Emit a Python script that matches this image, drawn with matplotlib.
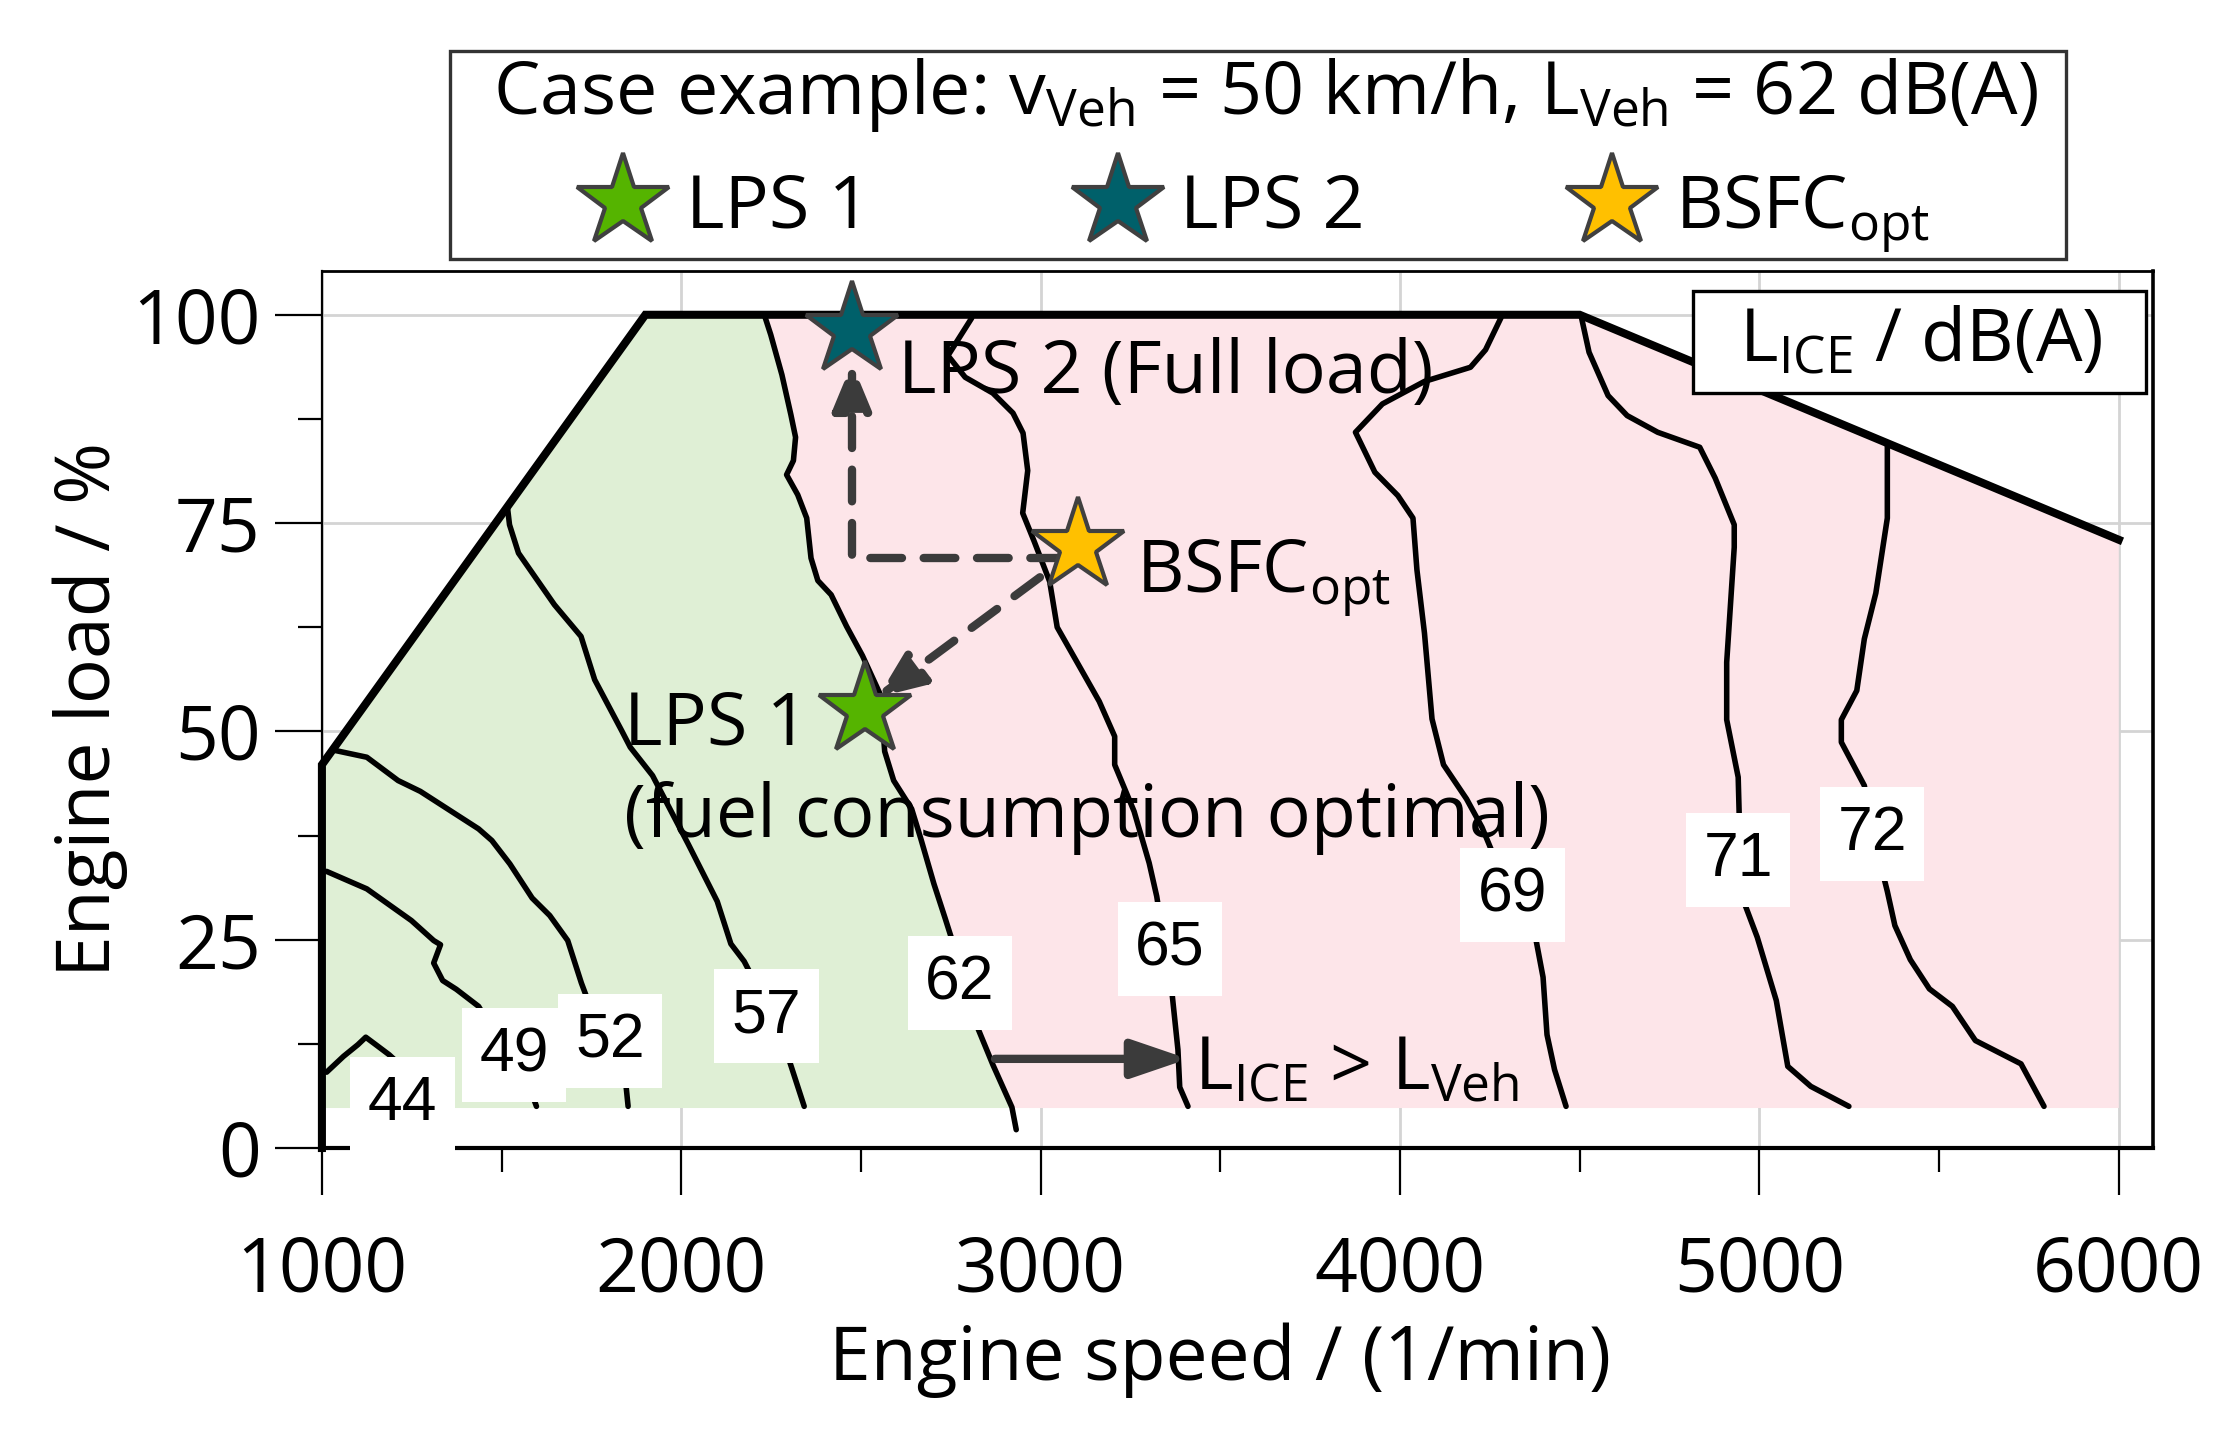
import numpy as np
import matplotlib
matplotlib.use("Agg")
import matplotlib.pyplot as plt
from matplotlib.lines import Line2D
from matplotlib.patches import Polygon, Rectangle

plt.rcParams['font.family'] = ['Open Sans', 'DejaVu Sans']
plt.rcParams['mathtext.fontset'] = 'custom'
plt.rcParams['mathtext.rm'] = 'Open Sans'

# full load curve (engine speed 1/min, load %)
full_speed = [1000, 1000, 1900, 4500, 6000]
full_load = [0, 46, 100, 100, 73]
fill_bottom = 4.8

# noise contour lines L_ICE / dB(A)
levels = [44, 49, 52, 57, 62, 65, 69, 71, 72]
contour_speed = [
    [1013, 1060, 1100, 1122, 1150, 1187, 1230, 1265, 1290],
    [1013, 1125, 1249, 1311, 1330, 1311, 1336, 1374, 1436, 1520, 1580, 1597],
    [1038, 1125, 1212, 1274, 1436, 1473, 1523, 1585, 1634, 1684, 1722, 1790, 1845, 1852],
    [1516, 1522, 1547, 1597, 1647, 1721, 1759, 1834, 1858, 1920, 2019, 2100, 2138, 2175, 2240, 2293, 2342],
    [2231, 2249, 2280, 2305, 2318, 2312, 2293, 2324, 2349, 2361, 2380, 2417, 2460, 2504, 2554, 2566,
     2591, 2641, 2666, 2703, 2734, 2790, 2825, 2867, 2920, 2932],
    [2808, 2742, 2790, 2867, 2923, 2951, 2964, 2950, 2982, 3025, 3046, 3100, 3163, 3206, 3206, 3260,
     3302, 3323, 3366, 3382, 3387, 3410],
    [4281, 4238, 4196, 4068, 3951, 3876, 3930, 3994, 4036, 4047, 4068, 4089, 4121, 4185, 4228, 4300,
     4377, 4398, 4409, 4430, 4462],
    [4505, 4526, 4579, 4632, 4717, 4834, 4877, 4930, 4930, 4909, 4909, 4941, 4945, 4952, 4994, 5047,
     5079, 5143, 5249],
    [5356, 5356, 5324, 5292, 5271, 5228, 5228, 5292, 5320, 5356, 5377, 5420, 5473, 5537, 5601, 5728, 5792],
]
contour_load = [
    [9.1, 11.0, 12.4, 13.3, 12.4, 11.2, 9.5, 7.0, 5.0],
    [33.2, 31.1, 27.3, 24.9, 24.4, 22.2, 20.1, 19.05, 17.0, 11.0, 7.0, 5.0],
    [47.7, 46.9, 44.1, 42.8, 38.3, 36.9, 34.1, 30.0, 27.9, 24.9, 19.8, 12.0, 8.0, 5.0],
    [77.0, 74.8, 71.4, 68.3, 65.2, 61.4, 56.2, 50.1, 48.1, 44.7, 36.5, 29.6, 24.5, 22.4, 17.0, 11.5, 5.0],
    [100.0, 97.6, 92.8, 88.0, 85.3, 82.5, 80.8, 78.4, 75.6, 70.8, 68.1, 66.4, 62.6, 59.1, 54.4, 47.6,
     44.1, 40.7, 37.2, 31.7, 27.6, 20.0, 14.4, 10.0, 4.9, 2.2],
    [99.6, 95.1, 92.5, 90.6, 88.2, 85.8, 81.3, 76.2, 72.8, 68.0, 62.5, 58.4, 53.6, 49.4, 46.0, 40.4,
     34.2, 30.2, 18.4, 11.8, 7.3, 5.0],
    [99.65, 95.8, 93.7, 92.0, 89.3, 85.9, 81.1, 78.3, 75.6, 69.4, 61.8, 51.5, 46.0, 41.9, 38.5, 31.0,
     25.3, 20.5, 13.6, 9.4, 5.0],
    [99.65, 95.5, 90.3, 87.9, 85.9, 84.1, 80.4, 74.8, 72.1, 58.3, 51.4, 44.5, 38.0, 30.1, 25.3, 17.7,
     9.8, 7.4, 5.0],
    [84.6, 75.6, 66.6, 61.1, 54.9, 51.4, 48.7, 43.5, 37.0, 30.8, 26.7, 22.6, 19.1, 17.0, 12.9, 10.1, 5.0],
]
label_speed = [1224, 1535, 1802, 2237, 2775, 3360, 4313, 4941, 5314]
label_load = [5.3, 11.2, 12.9, 15.8, 19.8, 23.9, 30.4, 34.6, 37.7]
vehicle_level = 62

# operating points
points = ['LPS 1', 'LPS 2', r'BSFC$_\mathregular{opt}$']
point_speed = [2511, 2474, 3104]
point_load = [52.6, 98.2, 72.2]
point_colors = ['#55b400', '#00606a', '#ffc000']

green = '#dfefd5'
pink = '#fde5e9'
arrow_col = '#3b3b3b'

fig = plt.figure(figsize=(11.17, 7.185), dpi=200)
ax = fig.add_axes([0.1441, 0.2011, 0.8196, 0.61])

# regions below / above vehicle noise level
i62 = levels.index(vehicle_level)
x62 = np.array(contour_speed[i62], dtype=float)
y62 = np.array(contour_load[i62], dtype=float)
keep = y62 >= fill_bottom
fy = np.concatenate([[101], y62[keep], [fill_bottom]])
fx = np.concatenate([[x62[0] - 5], x62[keep], [x62[keep][-1]]])
clip = Polygon(list(zip([1000] + full_speed[1:] + [6000], [fill_bottom] + full_load[1:] + [fill_bottom])),
               closed=True, transform=ax.transData, facecolor='none', edgecolor='none')
ax.add_patch(clip)
g = ax.fill_betweenx(fy, 1000, fx, color=green, lw=0, zorder=1)
p = ax.fill_betweenx(fy, fx, 6000, color=pink, lw=0, zorder=1)
g.set_clip_path(clip)
p.set_clip_path(clip)

for sp, ld in zip(contour_speed, contour_load):
    ax.plot(sp, ld, color='black', lw=2.0, zorder=3, solid_capstyle='round')

for lev, lx, ly in zip(levels, label_speed, label_load):
    ax.text(lx, ly, str(lev), family='Liberation Sans', fontsize=22.5, ha='center', va='center',
            zorder=4, bbox=dict(boxstyle='square,pad=0.28', fc='white', ec='none'))

ax.plot(full_speed, full_load, color='black', lw=2.9, zorder=5, solid_joinstyle='miter', clip_on=False)

# arrows
dash = (0, (3.8, 2.6))
ax.annotate('', xy=(2475, 94.2), xytext=(3060, 70.8), zorder=6,
            arrowprops=dict(arrowstyle='-|>,head_length=14,head_width=5.8', mutation_scale=1,
                            connectionstyle='angle,angleA=0,angleB=90,rad=0', lw=3, ls=dash,
                            color=arrow_col, shrinkA=0, shrinkB=0))
ax.annotate('', xy=(2547, 54.1), xytext=(2998, 68.5), zorder=6,
            arrowprops=dict(arrowstyle='-|>,head_length=14,head_width=5.8', mutation_scale=1,
                            lw=3, ls=dash, color=arrow_col, shrinkA=0, shrinkB=0))
ax.annotate('', xy=(3410, 10.7), xytext=(2873, 10.7), zorder=6,
            arrowprops=dict(arrowstyle='-|>,head_length=17,head_width=5.8', mutation_scale=1,
                            lw=3, color=arrow_col, shrinkA=0, shrinkB=0))

for sx, sy, c in zip(point_speed, point_load, point_colors):
    ax.plot(sx, sy, marker='*', ms=35, mfc=c, mec='#404040', mew=1.5, ls='none', zorder=7)

fs = 26.5
ax.text(2602, 90.6, 'LPS 2 (Full load)', fontsize=fs, va='baseline', zorder=8)
ax.text(3264, 66.8, r'BSFC$_\mathregular{opt}$', fontsize=fs, va='baseline', zorder=8)
ax.text(1841, 48.4, 'LPS 1', fontsize=fs, va='baseline', zorder=8)
ax.text(1841, 37.3, '(fuel consumption optimal)', fontsize=fs, va='baseline', zorder=8)
ax.text(3427, 7.0, r'L$_\mathregular{ICE}$ > L$_\mathregular{Veh}$', fontsize=fs, va='baseline', zorder=8)
ax.add_patch(Rectangle((0.7488, 0.8614), 0.2474, 0.1164, transform=ax.transAxes,
                       fc='white', ec='black', lw=1.2, zorder=8))
ax.text(0.8733, 0.9196, r'L$_\mathregular{ICE}$ / dB(A)', transform=ax.transAxes, fontsize=fs,
        ha='center', va='center', zorder=9)

ax.set_xlim(1000, 6095)
ax.set_ylim(0, 105.2)
ax.set_xticks(np.arange(1000, 6001, 1000))
ax.set_xticks(np.arange(1500, 6000, 1000), minor=True)
ax.set_yticks(np.arange(0, 101, 25))
ax.set_yticks(np.arange(12.5, 100, 25), minor=True)
ax.grid(True, which='major', color='#d4d4d4', lw=1.0, zorder=0)
ax.set_axisbelow(True)
ax.tick_params(which='major', length=17, width=0.8, labelsize=27)
ax.tick_params(axis='x', which='major', pad=14)
ax.tick_params(axis='y', which='major', pad=5)
ax.tick_params(which='minor', length=8.6, width=0.8)
ax.spines['top'].set_linewidth(1.0)
ax.spines['left'].set_linewidth(0.8)
ax.spines['bottom'].set_linewidth(1.5)
ax.spines['right'].set_linewidth(1.3)
ax.set_xlabel('Engine speed / (1/min)', fontsize=27)
ax.set_ylabel('Engine load / %', fontsize=27)
ax.yaxis.set_label_coords(-0.106, 0.5)
ax.xaxis.set_label_coords(0.4904, -0.199)

handles = [Line2D([], [], ls='none', marker='*', ms=35, mfc=c, mec='#404040', mew=1.5) for c in point_colors]
leg = fig.legend(handles, points, loc='center', bbox_to_anchor=(0.5631, 0.8921), ncol=3, fontsize=fs,
                 title=r'  Case example: v$_\mathregular{Veh}$ = 50 km/h, L$_\mathregular{Veh}$ = 62 dB(A)  ',
                 title_fontsize=fs, handlelength=1.0, handletextpad=0.35, columnspacing=2.86,
                 borderpad=0.08, labelspacing=0.5, fancybox=False, framealpha=1, edgecolor='#333333')
leg.get_frame().set_linewidth(1.2)

fig.savefig('out.png', dpi=200)
